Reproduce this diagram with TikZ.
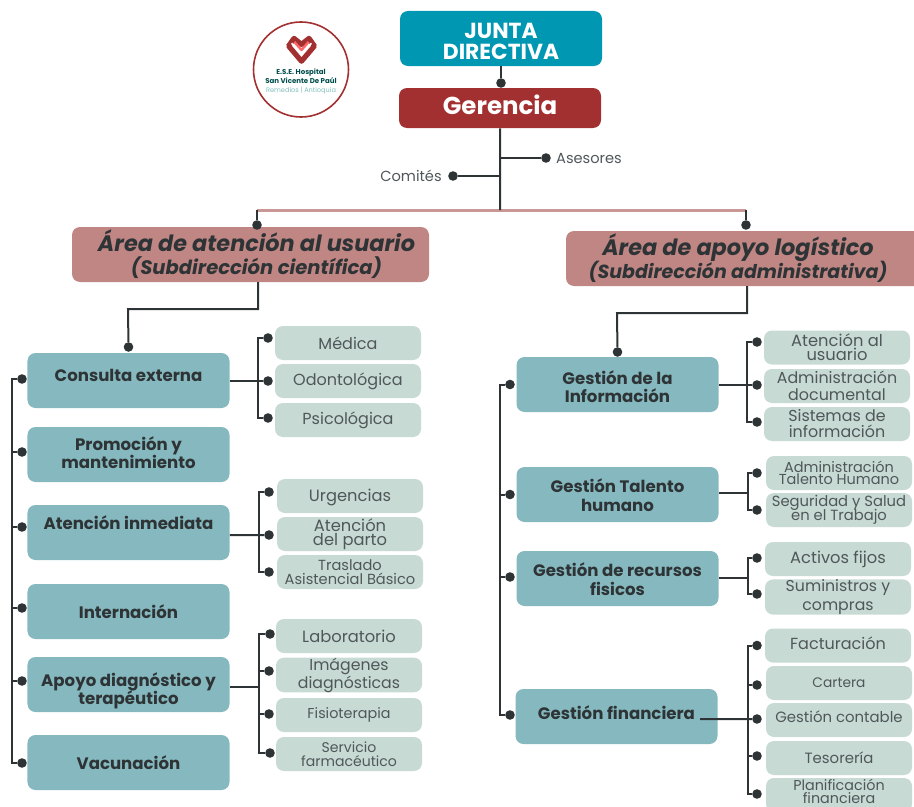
\documentclass[tikz,border=0pt]{standalone}
\usepackage{fontspec}
\setmainfont{Poppins}
\definecolor{azuljunta}{HTML}{0097B2}
\definecolor{rojoger}{HTML}{A33030}
\definecolor{rosaarea}{HTML}{C08684}
\definecolor{azulproc}{HTML}{85B9BF}
\definecolor{verdesub}{HTML}{C7DAD3}
\definecolor{oscuro}{HTML}{2E3436}
\definecolor{gristexto}{HTML}{50575A}
\newcommand{\tam}[2]{\lineskiplimit=-20pt\fontsize{#1}{#2}\selectfont}
\newcommand{\sangria}{\hspace*{.3cm}}
\begin{document}
\begin{tikzpicture}[node distance=2cm, auto]
	% Definición de estilos
	\tikzstyle{cabeza} = [rectangle, rounded corners=.2cm, minimum width=5.05cm, text=white, align=center]
	\tikzstyle{area} = [rectangle, fill=rosaarea, rounded corners=.2cm, minimum height=1.375cm, inner sep=0pt, text=oscuro, align=center, font=\tam{15.9}{16.4}\bfseries\itshape]
	\tikzstyle{proceso} = [rectangle, fill=azulproc, rounded corners=.2cm, minimum width=5.05cm, minimum height=1.375cm, inner ysep=0pt, text=oscuro, align=center, font=\tam{11.8}{13.2}\bfseries]
	\tikzstyle{sub} = [rectangle, fill=verdesub, rounded corners=.2cm, minimum width=3.65cm, minimum height=.85cm, inner sep=0pt, text=gristexto, align=center]
	\tikzstyle{punto} = [circle, fill=oscuro, minimum size=.24cm, inner sep=0pt]
	\tikzstyle{line} = [draw=oscuro, line width=.05cm]

	\useasboundingbox (0,0) rectangle (22.85,-20.175);

	% Logo
	\node [circle, draw=rojoger, line width=.04cm, minimum size=2.375cm, inner sep=0pt] (logo) at (7.525,-1.7375) {};
	\draw [rojoger, line width=.13cm, line join=round] (7.5375,-1.53) -- (7.215,-1.15) -- (7.35,-.96) -- (7.5375,-1.11) -- (7.725,-.96) -- (7.86,-1.15) -- cycle;
	\draw [white, line width=.04cm, line join=round] (7.29,-1.08) -- (7.5375,-1.35) -- (7.785,-1.08);
	\draw [red!60!white, line width=.06cm, line join=round] (7.36,-1.05) -- (7.5375,-1.25) -- (7.715,-1.05);
	\node [below of=logo, node distance=.175cm, text=teal!60!black, align=center, font=\tam{5}{6.3}\bfseries] (logonombre) {E.S.E. Hospital\\San Vicente De Paúl};
	\node [below of=logo, node distance=.525cm, text=teal!50!white, font=\tam{4.7}{5}] (logolugar) {Remedios | Antioquia};

	% Nodos
	\node [cabeza, fill=azuljunta, minimum height=1.375cm, text height=29.5pt, font=\tam{15.5}{15}\bfseries] (junta) at (12.525,-.9625) {JUNTA\\DIRECTIVA};
	\node [cabeza, fill=rojoger, minimum height=1cm, below of=junta, node distance=1.7375cm, xshift=-.025cm, text depth=4pt, font=\tam{17.4}{18}\bfseries] (gerencia) {Gerencia};
	\node [area, minimum width=8.925cm] (areausuario) at (6.2625,-6.3625) {\sangria Área de atención al usuario\\\sangria{\tam{13.9}{16.4}(Subdirección científica)}};
	\node [area, minimum width=8.9cm] (arealogistica) at (18.6,-6.4625) {Área de apoyo logístico\sangria\\{\tam{13.5}{16.4}(Subdirección administrativa)}\sangria};

	\node [proceso, text depth=8pt] (consulta) at (3.2125,-9.5125) {Consulta externa};
	\node [proceso, below of=consulta, node distance=1.85cm, text depth=3pt] (promocion) {Promoción y\\mantenimiento};
	\node [proceso, below of=promocion, node distance=1.95cm, text depth=14pt] (atencion) {Atención inmediata};
	\node [proceso, below of=atencion, node distance=1.975cm] (internacion) {Internación};
	\node [proceso, below of=internacion, node distance=1.825cm, text height=32pt] (apoyo) {Apoyo diagnóstico y\\terapéutico};
	\node [proceso, below of=apoyo, node distance=1.95cm] (vacunacion) {Vacunación};

	\node [proceso, text height=26pt] (informacion) at (15.4375,-9.6125) {Gestión de la\\Información};
	\node [proceso, below of=informacion, node distance=2.75cm, text height=24pt] (talento) {Gestión Talento\\humano};
	\node [proceso, below of=talento, node distance=2.1cm, text height=24pt] (recursos) {Gestión de recursos\\fisicos};
	\node [proceso, below of=recursos, node distance=3.45cm, xshift=-.025cm, text depth=5pt] (financiera) {Gestión financiera};

	\node [sub, font=\tam{11.4}{12}] (medica) at (8.7,-8.575) {Médica};
	\node [sub, below of=medica, node distance=.95cm, font=\tam{11.4}{12}] (odonto) {Odontológica};
	\node [sub, below of=odonto, node distance=.975cm, font=\tam{11.4}{12}] (psico) {Psicológica};

	\node [sub, text height=11pt, font=\tam{11.6}{12}] (urgencias) at (8.75,-12.4) {Urgencias};
	\node [sub, below of=urgencias, node distance=.95cm, font=\tam{11.6}{10}] (parto) {Atención\\del parto};
	\node [sub, below of=parto, node distance=.95cm, font=\tam{10.4}{9.5}] (traslado) {Traslado\\Asistencial Básico};

	\node [sub, font=\tam{11.6}{12}] (laboratorio) at (8.725,-15.9) {Laboratorio};
	\node [sub, below of=laboratorio, node distance=.975cm, font=\tam{11.2}{12.8}] (imagenes) {Imágenes\\diagnósticas};
	\node [sub, below of=imagenes, node distance=1cm, font=\tam{10.2}{10}] (fisio) {Fisioterapia};
	\node [sub, below of=fisio, node distance=.975cm, font=\tam{10}{9.6}] (servicio) {Servicio\\farmacéutico};

	\node [sub, font=\tam{11.6}{10}] (atusuario) at (20.925,-8.6875) {Atención al\\usuario};
	\node [sub, below of=atusuario, node distance=.9625cm, font=\tam{11.3}{12}] (documental) {Administración\\documental};
	\node [sub, below of=documental, node distance=.95cm, font=\tam{11.3}{11.4}] (sistemas) {Sistemas de\\información};

	\node [sub, font=\tam{10.3}{8.6}] (admtalento) at (20.975,-11.825) {Administración\\Talento Humano};
	\node [sub, below of=admtalento, node distance=.925cm, font=\tam{10.5}{10}] (seguridad) {Seguridad y Salud\\en el Trabajo};

	\node [sub, font=\tam{11.6}{12}] (activos) at (20.95,-13.975) {Activos fijos};
	\node [sub, below of=activos, node distance=.95cm, font=\tam{11.2}{13.5}] (suministros) {Suministros y\\compras};

	\node [sub, text depth=3pt, font=\tam{11.4}{12}] (facturacion) at (20.95,-16.1375) {Facturación};
	\node [sub, below of=facturacion, node distance=.9375cm, xshift=.025cm, font=\tam{9.8}{12}] (cartera) {Cartera};
	\node [sub, below of=cartera, node distance=.925cm, text depth=5pt, font=\tam{10.6}{12}] (contable) {Gestión contable};
	\node [sub, below of=contable, node distance=.95cm, font=\tam{10.6}{12}] (tesoreria) {Tesorería};
	\node [sub, below of=tesoreria, node distance=.925cm, text depth=5pt, font=\tam{10.2}{9.3}] (planificacion) {Planificación\\financiera};

	% Puntos
	\node [punto, below of=junta, node distance=1.1125cm] (djunta) {};
	\node [punto] (dasesores) at (13.65,-3.95) {};
	\node [punto] (dcomites) at (11.325,-4.4) {};
	\node [punto] (dareausuario) at (6.425,-5.625) {};
	\node [punto] (darealogistica) at (18.65,-5.625) {};

	\node [punto, above of=consulta, node distance=.8375cm] (dconsultasup) {};
	\node [punto, left of=consulta, node distance=2.6625cm, yshift=.0375cm] (dconsulta) {};
	\node [punto, left of=promocion, node distance=2.6625cm, yshift=.0625cm] (dpromocion) {};
	\node [punto, left of=atencion, node distance=2.6625cm, yshift=.1375cm] (datencion) {};
	\node [punto, left of=internacion, node distance=2.6625cm, yshift=.0875cm] (dinternacion) {};
	\node [punto, left of=apoyo, node distance=2.6625cm, yshift=.0875cm] (dapoyo) {};
	\node [punto, left of=vacunacion, node distance=2.6625cm, yshift=-.0125cm] (dvacunacion) {};

	\node [punto, above of=informacion, node distance=.8125cm] (dinformacionsup) {};
	\node [punto, left of=informacion, node distance=2.6875cm] (dinformacion) {};
	\node [punto, left of=talento, node distance=2.6875cm] (dtalento) {};
	\node [punto, left of=recursos, node distance=2.6875cm, yshift=.0375cm] (drecursos) {};
	\node [punto, left of=financiera, node distance=2.6625cm, yshift=.0375cm] (dfinanciera) {};

	\node [punto, left of=medica, yshift=.125cm] (dmedica) {};
	\node [punto, left of=odonto] (dodonto) {};
	\node [punto, left of=psico, yshift=.05cm] (dpsico) {};
	\node [punto, left of=urgencias, node distance=2.025cm, yshift=.1cm] (durgencias) {};
	\node [punto, left of=parto, node distance=2.025cm, yshift=-.025cm] (dparto) {};
	\node [punto, left of=traslado, node distance=2.025cm] (dtraslado) {};
	\node [punto, left of=laboratorio, node distance=1.975cm, yshift=.05cm] (dlaboratorio) {};
	\node [punto, left of=imagenes, yshift=.1cm] (dimagenes) {};
	\node [punto, left of=fisio, yshift=.025cm] (dfisio) {};
	\node [punto, left of=servicio, node distance=1.975cm, yshift=.025cm] (dservicio) {};

	\node [punto, left of=atusuario, yshift=.1375cm] (datusuario) {};
	\node [punto, left of=documental, yshift=.025cm] (ddocumental) {};
	\node [punto, left of=sistemas, yshift=.05cm] (dsistemas) {};
	\node [punto, left of=admtalento, node distance=2.05cm] (dadmtalento) {};
	\node [punto, left of=seguridad, node distance=2.05cm] (dseguridad) {};
	\node [punto, left of=activos, node distance=2.025cm, yshift=.025cm] (dactivos) {};
	\node [punto, left of=suministros, node distance=2.025cm, yshift=.075cm] (dsuministros) {};
	\node [punto, left of=facturacion, node distance=2.025cm] (dfacturacion) {};
	\node [punto, left of=cartera, node distance=2.05cm, yshift=-.05cm] (dcartera) {};
	\node [punto, left of=contable, node distance=2.05cm, yshift=.025cm] (dcontable) {};
	\node [punto, left of=tesoreria, node distance=2.05cm, yshift=.05cm] (dtesoreria) {};
	\node [punto, left of=planificacion, node distance=2.05cm, yshift=.025cm] (dplanificacion) {};

	% Etiquetas
	\node [right of=dasesores, node distance=1.075cm, text=gristexto, font=\tam{10.4}{12}] (asesores) {Asesores};
	\node [left of=dcomites, node distance=1.05cm, text=gristexto, font=\tam{10.4}{12}] (comites) {Comités};

	% Puntos de quiebre
	\coordinate (cruce) at (12.5,-5.25);
	\coordinate (saleusuario) at (6.45,-7.05);
	\coordinate (quiebreusuario) at (3.2,-7.725);
	\coordinate (salelogistica) at (18.675,-7.15);
	\coordinate (quiebrelogistica) at (15.425,-7.825);
	\coordinate (busa) at (.2875,-12);
	\coordinate (busb) at (12.5,-12);
	\coordinate (busconsulta) at (6.45,-9.525);
	\coordinate (busatencion) at (6.475,-13.375);
	\coordinate (busapoyo) at (6.475,-17.175);
	\coordinate (businformacion) at (18.675,-9.625);
	\coordinate (bustalento) at (18.6875,-12.325);
	\coordinate (busrecursos) at (18.6875,-14.45);
	\coordinate (busfinanciera) at (18.7,-17.975);
	\coordinate (salefinanciera) at (17.5,-17.975);

	% Conexiones
	\draw [draw=rosaarea!85!white, line width=.075cm] (cruce -| dareausuario) -- (cruce -| darealogistica);
	\path [line] (junta) -- (djunta);
	\path [line] (gerencia) -- (cruce);
	\path [line] (dasesores) -- (dasesores -| gerencia);
	\path [line] (dcomites) -- (dcomites -| gerencia);
	\path [line] (cruce -| dareausuario) -- (dareausuario);
	\path [line] (cruce -| darealogistica) -- (darealogistica);
	\path [line] (saleusuario) |- (quiebreusuario) -- (dconsultasup);
	\path [line] (salelogistica) |- (quiebrelogistica) -- (dinformacionsup);

	\path [line] (dconsulta) -| (busa) |- (dvacunacion);
	\path [line] (dpromocion) -- (dpromocion -| busa);
	\path [line] (datencion) -- (datencion -| busa);
	\path [line] (dinternacion) -- (dinternacion -| busa);
	\path [line] (dapoyo) -- (dapoyo -| busa);

	\path [line] (dinformacion) -| (busb) |- (dfinanciera);
	\path [line] (dtalento) -- (dtalento -| busb);
	\path [line] (drecursos) -- (drecursos -| busb);

	\path [line] (dmedica) -| (busconsulta) |- (dpsico);
	\path [line] (busconsulta -| consulta.east) -- (dodonto);
	\path [line] (durgencias) -| (busatencion) |- (dtraslado);
	\path [line] (busatencion -| atencion.east) -- (dparto);
	\path [line] (dlaboratorio) -| (busapoyo) |- (dservicio);
	\path [line] (busapoyo -| apoyo.east) -- (busapoyo);
	\path [line] (dimagenes) -- (dimagenes -| busapoyo);
	\path [line] (dfisio) -- (dfisio -| busapoyo);

	\path [line] (datusuario) -| (businformacion) |- (dsistemas);
	\path [line] (businformacion -| informacion.east) -- (ddocumental);
	\path [line] (dadmtalento) -| (bustalento) |- (dseguridad);
	\path [line] (bustalento -| talento.east) -- (bustalento);
	\path [line] (dactivos) -| (busrecursos) |- (dsuministros);
	\path [line] (busrecursos -| recursos.east) -- (busrecursos);
	\path [line] (dfacturacion) -| (busfinanciera) |- (dplanificacion);
	\path [line] (salefinanciera) -- (dcontable);
	\path [line] (dcartera) -- (dcartera -| busfinanciera);
	\path [line] (dtesoreria) -- (dtesoreria -| busfinanciera);
\end{tikzpicture}
\end{document}
